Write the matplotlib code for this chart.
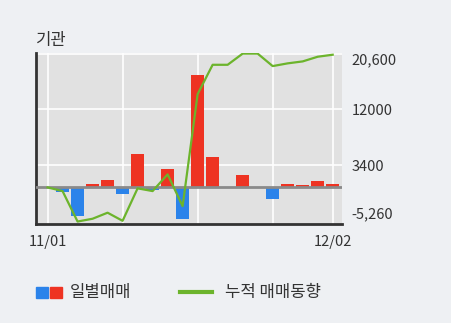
import numpy as np
import matplotlib
matplotlib.use('Agg')
import matplotlib.pyplot as plt
from matplotlib.patches import Rectangle
from matplotlib.lines import Line2D

plt.rcParams['font.family'] = ['Noto Sans CJK KR', 'DejaVu Sans']

# 데이터
x_labels = ['11/01', '12/02']
daily = [0, -730, -4430, 570, 1130, -1080, 5140, -460, 2830, -4940,
         17290, 4630, 0, 1900, 0, -1850, 510, 310, 970, 510]
cumul = [0, -570, -5260, -4830, -3900, -5150, -150, -570, 2000, -2890,
         14360, 18880, 18880, 20600, 20600, 18680, 19100, 19400, 20120, 20430]
y_ticks = [20600, 12000, 3400, -5260]
y_tick_labels = ['20,600', '12000', '3400', '-5,260']

RED = '#ee3322'
BLUE = '#2b83ea'
GREEN = '#6cb42c'
BG = '#eef0f3'
TXT = '#333333'

fig = plt.figure(figsize=(4.51, 3.23), dpi=100, facecolor=BG)
ax = fig.add_axes([0.0798, 0.3065, 0.6782, 0.5285])
ax.set_facecolor('#e1e1e1')

n = len(daily)
idx = np.arange(n)
colors = [RED if v >= 0 else BLUE for v in daily]

# 그리드
for gx in [0, 5, 10, 15, 19]:
    ax.axvline(gx, color='white', lw=1.2, zorder=0)
for gy in y_ticks[:3]:
    ax.axhline(gy, color='white', lw=1.2, zorder=0)

ax.bar(idx, daily, width=0.86, color=colors, zorder=2)
ax.axhline(0, color='#8a8a8a', lw=2, zorder=3)
ax.plot(idx, cumul, color=GREEN, lw=1.6, zorder=4)

ax.set_xlim(-0.77, 19.61)
ax.set_ylim(-5640, 20650)

for s in ['top', 'right']:
    ax.spines[s].set_visible(False)
ax.spines['left'].set_color(TXT)
ax.spines['left'].set_linewidth(2)
ax.spines['bottom'].set_color(TXT)
ax.spines['bottom'].set_linewidth(2)

ax.set_xticks([0, n - 1])
ax.set_xticklabels(x_labels, fontsize=10.5, color=TXT)
ax.tick_params(axis='x', length=0, pad=8)

ax.yaxis.tick_right()
ax.set_yticks(y_ticks)
ax.set_yticklabels(y_tick_labels, fontsize=10.5, color=TXT)
ax.tick_params(axis='y', length=0, pad=7, left=False)
labels = ax.get_yticklabels()
labels[0].set_va('top')
labels[-1].set_va('bottom')

fig.text(0.08, 0.876, '기관', fontsize=12, color=TXT, va='center')

# 범례
fig.patches.append(Rectangle((36 / 451, 1 - 298 / 323), 12 / 451, 11 / 323,
                             transform=fig.transFigure, color=BLUE, figure=fig))
fig.patches.append(Rectangle((50 / 451, 1 - 298 / 323), 12 / 451, 11 / 323,
                             transform=fig.transFigure, color=RED, figure=fig))
fig.text(70 / 451, 1 - 292 / 323, '일별매매', fontsize=12, color=TXT, va='center')
fig.lines.append(Line2D([180 / 451, 212 / 451], [1 - 292 / 323, 1 - 292 / 323],
                        transform=fig.transFigure, color=GREEN, lw=3, figure=fig))
fig.text(225 / 451, 1 - 292 / 323, '누적 매매동향', fontsize=12, color=TXT, va='center')

fig.savefig('out.png', dpi=100, facecolor=BG)
